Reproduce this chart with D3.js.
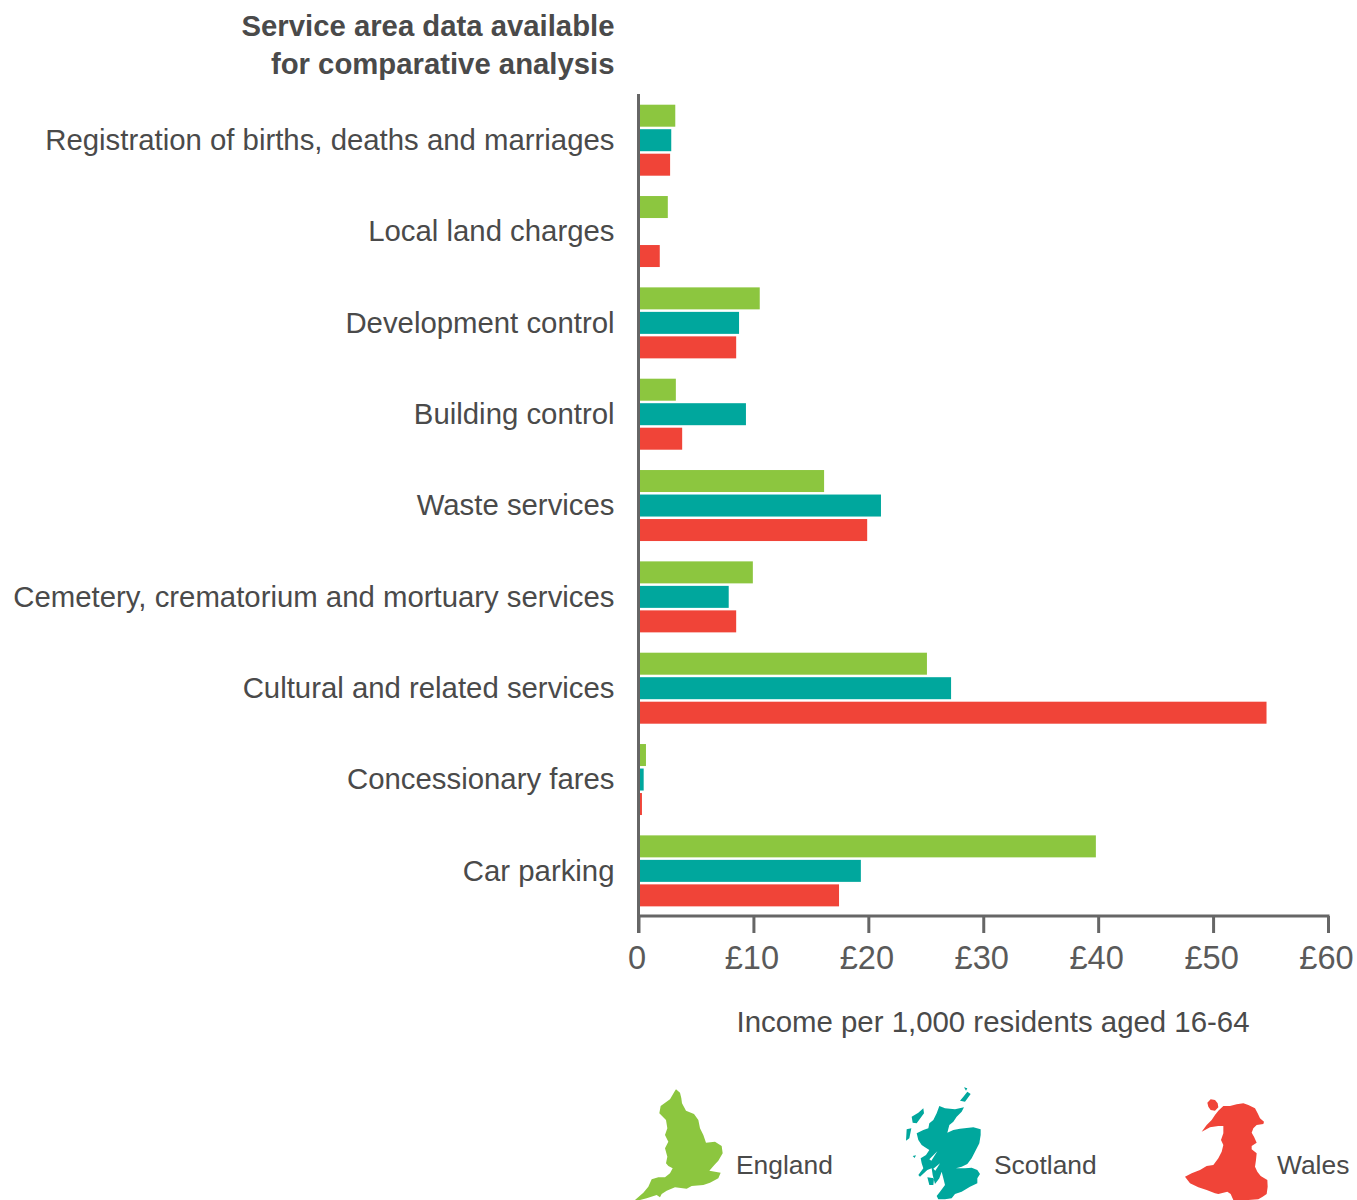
<!DOCTYPE html>
<html><head><meta charset="utf-8">
<script src="https://cdn.jsdelivr.net/npm/d3@7/dist/d3.min.js"></script>
<style>html,body{margin:0;background:#fff}svg{display:block}text{font-family:"Liberation Sans",Arial,sans-serif}</style>
</head><body><div id="c"></div>
<script>
const categories=["Registration of births, deaths and marriages","Local land charges","Development control","Building control","Waste services","Cemetery, crematorium and mortuary services","Cultural and related services","Concessionary fares","Car parking"];
const england=[3.2,2.55,10.55,3.25,16.15,9.95,25.1,0.65,39.8];
const scotland=[2.85,null,8.75,9.35,21.1,7.85,27.2,0.45,19.35];
const wales=[2.75,1.85,8.5,3.8,19.9,8.5,54.65,0.3,17.45];
const seriesNames=["England","Scotland","Wales"];
const colors=["#8cc63f","#00a79d","#f04438"];
const xTicks=[0,10,20,30,40,50,60];
const titleLines=["Service area data available","for comparative analysis"];
const xTitle="Income per 1,000 residents aged 16-64";
const seriesValues=[england,scotland,wales];
const svg=d3.select("#c").append("svg").attr("width",1357).attr("height",1200);
const x=d3.scaleLinear().domain([0,60]).range([638.5,1328]);
const y=d3.scaleBand().domain(categories).range([94,916]);
const axisColor="#666666",textColor="#4a4a4a";
const g=svg.append("g");
seriesNames.forEach((s,i)=>{
  g.selectAll(null).data(categories.map((c,k)=>({c,v:seriesValues[i][k]})).filter(d=>d.v!=null)).join("rect")
   .attr("x",x(0)).attr("y",d=>y(d.c)+10.7+i*24.5).attr("height",22)
   .attr("width",d=>x(d.v)-x(0)).attr("fill",colors[i]);
});
const xa=svg.append("g").attr("transform","translate(0,916)")
 .call(d3.axisBottom(x).tickValues(xTicks).tickSize(17).tickPadding(13).tickFormat(d=>d===0?"0":"£"+d));
xa.select(".domain").attr("stroke",axisColor).attr("stroke-width",3).attr("d",`M${x(0)-1.5},0H${x(60)+1.5}`);
xa.selectAll(".tick line").attr("stroke",axisColor).attr("stroke-width",3);
xa.selectAll(".tick text").attr("font-size",32.6).attr("fill","#5a5a5a").attr("font-family","Liberation Sans").attr("dx",-2);
const ya=svg.append("g").attr("transform",`translate(${x(0)},0)`)
 .call(d3.axisLeft(y).tickSize(0).tickPadding(24));
ya.select(".domain").attr("stroke",axisColor).attr("stroke-width",3).attr("d","M0,94V933");
ya.selectAll(".tick text").attr("font-size",29.35).attr("fill",textColor).attr("font-family","Liberation Sans").attr("transform","translate(0,0.8)");
svg.append("g").selectAll("text").data(titleLines).join("text")
 .attr("x",614.5).attr("y",(d,i)=>35.5+i*38).attr("text-anchor","end").attr("font-size",29.3).attr("font-weight","bold").attr("fill",textColor).text(d=>d);
svg.append("text").attr("x",993).attr("y",1032).attr("text-anchor","middle").attr("font-size",29.4).attr("fill",textColor).text(xTitle);
const pts=a=>"M"+a.map(p=>p.join(",")).join("L")+"Z";
const glyphs={
England:{ox:620,oy:1070,p:[[[168,58],[180,68],[184,85],[186,100],[198,122],[222,132],[235,150],[240,175],[250,195],[258,218],[285,215],[305,228],[308,250],[295,272],[283,285],[268,302],[302,308],[295,325],[270,338],[250,345],[215,348],[200,356],[165,352],[140,362],[125,372],[120,382],[110,375],[80,385],[60,390],[45,390],[70,368],[85,350],[95,328],[115,322],[135,322],[150,310],[158,295],[145,288],[138,280],[142,260],[135,235],[145,215],[135,195],[142,175],[138,150],[118,130],[122,108],[150,88],[165,62]]]},
Scotland:{ox:890,oy:1070,p:[[[148,108],[165,115],[195,118],[222,112],[215,125],[200,140],[190,155],[178,165],[172,188],[190,180],[210,176],[250,172],[272,178],[272,195],[268,220],[255,245],[245,265],[232,282],[215,290],[198,295],[225,295],[245,293],[262,300],[270,312],[262,325],[262,340],[240,350],[215,365],[195,372],[185,385],[165,388],[145,388],[140,378],[150,365],[165,345],[160,325],[155,305],[148,325],[135,342],[128,315],[125,295],[112,300],[90,320],[85,315],[100,295],[95,280],[92,265],[108,255],[118,240],[105,232],[95,225],[85,210],[80,190],[100,180],[115,175],[118,160],[130,150],[140,130]],
 [[65,140],[85,128],[100,115],[102,130],[80,160],[68,158]],[[50,178],[64,175],[58,205],[48,212]],[[210,92],[222,78],[232,65],[242,72],[225,95]],[[222,52],[232,55],[228,62]],[[112,322],[132,325],[130,345],[118,345]],[[68,258],[78,256],[74,264]],
 [[118,268],[142,244],[124,272]],[[130,296],[150,280],[136,302]]]},
Wales:{ox:890,oy:1070,p:[[[952,98],[962,88],[975,90],[983,100],[985,112],[975,122],[962,120],[955,110]],
 [[985,122],[1000,108],[1020,108],[1040,103],[1060,100],[1075,105],[1095,115],[1103,130],[1110,145],[1122,155],[1120,162],[1100,165],[1090,175],[1085,188],[1092,200],[1100,218],[1085,228],[1085,238],[1100,250],[1098,270],[1095,290],[1102,305],[1112,318],[1132,330],[1133,350],[1130,372],[1118,380],[1105,388],[1075,390],[1030,390],[1022,372],[1012,365],[985,372],[975,370],[950,360],[925,352],[900,340],[885,320],[905,310],[930,300],[950,288],[970,285],[985,265],[995,245],[1000,225],[993,210],[1000,190],[1000,168],[985,168],[960,172],[945,180],[935,185],[950,165],[965,150],[975,135]]]}
};
const legendLabelX=[736,994,1277];
seriesNames.forEach((s,i)=>{
  const G=glyphs[s];
  svg.append("path").attr("fill",colors[i]).attr("fill-rule","evenodd").attr("transform",`translate(${G.ox},${G.oy}) scale(${1/3})`).attr("d",G.p.map(pts).join(""));
  svg.append("text").attr("x",legendLabelX[i]).attr("y",1174).attr("font-size",26.4).attr("fill",textColor).text(s);
});
</script></body></html>
